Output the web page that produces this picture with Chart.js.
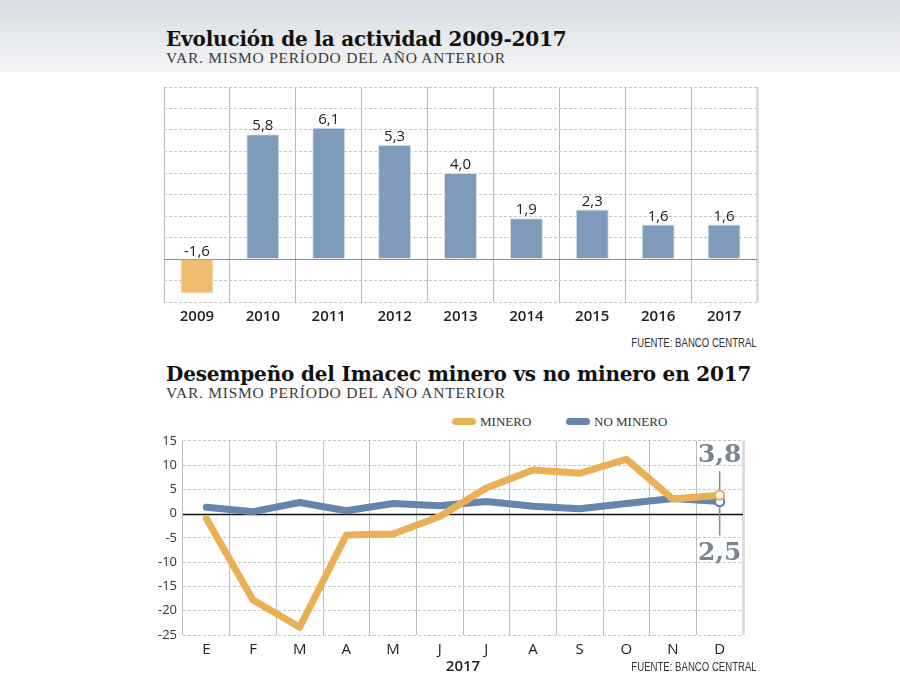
<!DOCTYPE html>
<html><head><meta charset="utf-8">
<script src="https://cdn.jsdelivr.net/npm/chart.js@4.4.1/dist/chart.umd.min.js"></script>
<style>
html,body{margin:0;padding:0;background:#fff;}
body{width:900px;height:692px;position:relative;overflow:hidden;}
#bg{position:absolute;left:0;top:0;width:900px;height:72px;background:linear-gradient(#d7dbe2,#f4f5f7);}
.title{position:absolute;left:166px;font-family:'DejaVu Serif',serif;font-weight:bold;font-size:20px;letter-spacing:-0.18px;color:#111;white-space:nowrap;line-height:1;}
.sub{position:absolute;left:166px;font-family:'Liberation Serif',serif;font-size:15.5px;letter-spacing:0.75px;color:#3a3a3a;white-space:nowrap;line-height:1;}
.src{position:absolute;right:143px;font-family:'Liberation Sans',sans-serif;font-size:12px;color:#333;line-height:1;white-space:nowrap;transform:scaleX(0.8);transform-origin:right center;}
.box{position:absolute;}
.sw{position:absolute;height:7px;width:24px;border-radius:4px;top:418px;}
.lg{position:absolute;font-family:'Liberation Serif',serif;font-size:13px;color:#333;line-height:1;top:415px;white-space:nowrap;}
</style>
</head><body>
<div id="bg"></div>
<div class="title" style="top:29px">Evolución de la actividad 2009-2017</div>
<div class="sub" style="top:50px">VAR. MISMO PERÍODO DEL AÑO ANTERIOR</div>
<div class="box" style="left:150px;top:75px;width:620px;height:260px"><canvas id="c1" width="620" height="260"></canvas></div>
<div class="src" style="top:337px">FUENTE: BANCO CENTRAL</div>

<div class="title" style="top:364px">Desempeño del Imacec minero vs no minero en 2017</div>
<div class="sub" style="top:385px">VAR. MISMO PERÍODO DEL AÑO ANTERIOR</div>
<div class="sw" style="left:452px;background:#ebb055"></div>
<div class="lg" style="left:480px">MINERO</div>
<div class="sw" style="left:566px;background:#6685ad"></div>
<div class="lg" style="left:594px">NO MINERO</div>
<div class="box" style="left:150px;top:427px;width:620px;height:253px"><canvas id="c2" width="620" height="253"></canvas></div>
<div class="src" style="top:661px">FUENTE: BANCO CENTRAL</div>

<script>
// ---- data ----
const years = ['2009','2010','2011','2012','2013','2014','2015','2016','2017'];
const activity = [-1.6, 5.8, 6.1, 5.3, 4.0, 1.9, 2.3, 1.6, 1.6];
const months = ['E','F','M','A','M','J','J','A','S','O','N','D'];
const minero = [-1.0, -17.8, -23.4, -4.4, -4.2, -0.6, 5.3, 9.0, 8.3, 11.2, 3.0, 3.8];
const noMinero = [1.3, 0.4, 2.3, 0.6, 2.1, 1.6, 2.5, 1.5, 1.0, 2.1, 3.1, 2.5];
const axis1 = [-2, 8, 1];   // min, max, step
const axis2 = [-25, 15, 5]; // min, max, step
const xTitle2 = '2017';

const BLUE_BAR = '#7f9bbb', ORANGE_BAR = '#f0bc6f';
const ORANGE = '#ebb055', BLUE = '#6685ad';
const fmt = v => v.toFixed(1).replace('.', ',');
Chart.defaults.font.family = "'Open Sans', sans-serif";
Chart.defaults.color = '#222';

const zeroLine = (color, width) => ({
  id: 'zeroLine',
  beforeDatasetsDraw(chart) {
    const y = chart.scales.y.getPixelForValue(0);
    const a = chart.chartArea, ctx = chart.ctx;
    ctx.save(); ctx.strokeStyle = color; ctx.lineWidth = width; ctx.setLineDash([]);
    ctx.beginPath(); ctx.moveTo(a.left, Math.round(y) + 0.5); ctx.lineTo(a.right, Math.round(y) + 0.5); ctx.stroke();
    ctx.restore();
  }
});

const barLabels = {
  id: 'barLabels',
  afterDatasetsDraw(chart) {
    const ctx = chart.ctx, meta = chart.getDatasetMeta(0);
    ctx.save();
    ctx.font = "400 15px 'Open Sans', sans-serif";
    ctx.fillStyle = '#222'; ctx.textAlign = 'center'; ctx.textBaseline = 'alphabetic';
    meta.data.forEach((el, i) => {
      const top = Math.min(el.y, el.base);
      ctx.fillText(fmt(activity[i]), el.x, top - 4);
    });
    ctx.restore();
  }
};

new Chart(document.getElementById('c1'), {
  type: 'bar',
  data: { labels: years, datasets: [{
    data: activity,
    backgroundColor: activity.map(v => v < 0 ? ORANGE_BAR : BLUE_BAR),
    borderColor: activity.map(v => v < 0 ? '#f6d9ac' : '#d3dde9'),
    borderWidth: 1,
    barPercentage: 0.5, categoryPercentage: 1
  }]},
  options: {
    responsive: false, animation: false, devicePixelRatio: 1,
    layout: { padding: { left: 14, right: 13, top: 12, bottom: 3 } },
    plugins: { legend: { display: false }, tooltip: { enabled: false } },
    scales: {
      x: {
        afterFit: s => { s.height = 30; },
        grid: { offset: true, drawTicks: false,
          color: c => c.type === 'tick' ? '#b8b8b8' : '#dcdcdc',
          lineWidth: c => c.type === 'tick' ? 1 : 3 },
        border: { display: false },
        ticks: { padding: 6, color: '#222', font: { size: 15, weight: 600 } }
      },
      y: {
        min: axis1[0], max: axis1[1],
        afterFit: s => { s.width = 0; },
        ticks: { display: false, stepSize: axis1[2] },
        grid: { drawTicks: false, color: c => (c.tick && c.tick.value === 0) ? 'rgba(0,0,0,0)' : '#c6c6c6' },
        border: { display: false, dash: [3, 2] }
      }
    }
  },
  plugins: [zeroLine('#8f8f8f', 1), barLabels]
});

const endLabels = {
  id: 'endLabels',
  afterDatasetsDraw(chart) {
    const ctx = chart.ctx;
    const last = months.length - 1;
    const m0 = chart.getDatasetMeta(0).data[last];
    const m1 = chart.getDatasetMeta(1).data[last];
    ctx.save();
    ctx.strokeStyle = '#8a8a8a'; ctx.lineWidth = 1.5;
    ctx.beginPath();
    ctx.moveTo(m0.x, m0.y - 24); ctx.lineTo(m0.x, m0.y - 5);
    ctx.moveTo(m1.x, m1.y + 5); ctx.lineTo(m1.x, m1.y + 34);
    ctx.stroke();
    m1.draw(ctx, chart.chartArea);
    m0.draw(ctx, chart.chartArea);
    ctx.font = "bold 25px 'DejaVu Serif', serif";
    ctx.fillStyle = '#7a8592'; ctx.textAlign = 'center'; ctx.textBaseline = 'alphabetic';
    ctx.fillText(fmt(minero[last]), m0.x, m0.y - 33);
    ctx.fillText(fmt(noMinero[last]), m1.x, m1.y + 59);
    ctx.restore();
  }
};

const lastOnly = r => c => c.dataIndex === months.length - 1 ? r : 0;

new Chart(document.getElementById('c2'), {
  type: 'line',
  data: { labels: months, datasets: [
    { label: 'MINERO', data: minero, borderColor: ORANGE, borderWidth: 7, tension: 0,
      borderJoinStyle: 'round', borderCapStyle: 'round',
      pointRadius: lastOnly(4.5), pointBackgroundColor: '#fff', pointBorderColor: ORANGE, pointBorderWidth: 2, pointHoverRadius: 0 },
    { label: 'NO MINERO', data: noMinero, borderColor: BLUE, borderWidth: 7, tension: 0,
      borderJoinStyle: 'round', borderCapStyle: 'round',
      pointRadius: lastOnly(4.5), pointBackgroundColor: '#fff', pointBorderColor: BLUE, pointBorderWidth: 2, pointHoverRadius: 0 }
  ]},
  options: {
    responsive: false, animation: false, devicePixelRatio: 1,
    layout: { padding: { left: 0, right: 27, top: 7, bottom: 0 } },
    plugins: { legend: { display: false }, tooltip: { enabled: false } },
    scales: {
      x: {
        offset: true,
        afterFit: s => { s.height = 45; },
        grid: { offset: true, drawTicks: false,
          color: c => c.type === 'tick' ? '#bdbdbd' : '#dcdcdc',
          lineWidth: c => c.type === 'tick' ? 1 : 3 },
        border: { display: false },
        ticks: { padding: 6, color: '#222', font: { size: 15, weight: 500 } },
        title: { display: true, text: xTitle2, color: '#222', font: { size: 15, weight: 600 }, padding: { top: 0, bottom: 4 } }
      },
      y: {
        min: axis2[0], max: axis2[1],
        afterFit: s => { s.width = 33; },
        ticks: { stepSize: axis2[2], padding: 6, color: '#333', font: { size: 13 } },
        grid: { drawTicks: false, color: c => (c.tick && c.tick.value === 0) ? 'rgba(0,0,0,0)' : '#c6c6c6' },
        border: { display: false, dash: [3, 2] }
      }
    }
  },
  plugins: [zeroLine('#111', 1.5), endLabels]
});
</script>
</body></html>
